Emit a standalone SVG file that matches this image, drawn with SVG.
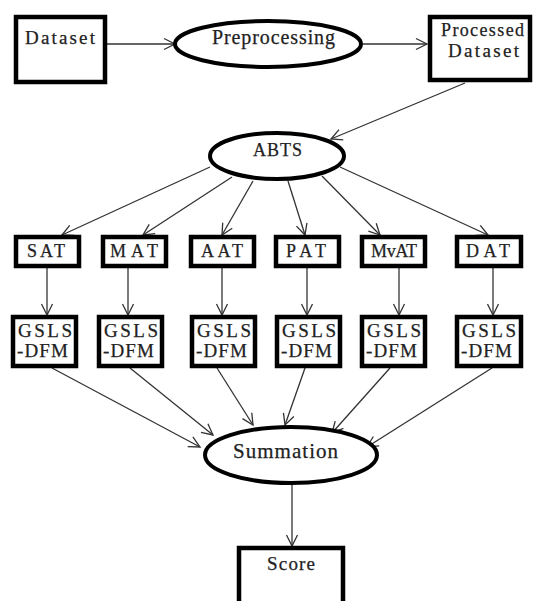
<svg xmlns="http://www.w3.org/2000/svg" width="533" height="601" viewBox="0 0 533 601">
<style>
.box{fill:#fff;stroke:#000;stroke-width:4.5}
.ell{fill:#fff;stroke:#000;stroke-width:4}
.t{font-family:"Liberation Serif","Times New Roman",serif;fill:#222;stroke:#222;stroke-width:0.25;text-anchor:start}
.c{fill:none;stroke:#333;stroke-width:1.3;marker-end:url(#a)}
</style>
<defs>
<marker id="a" markerUnits="userSpaceOnUse" markerWidth="14" markerHeight="14" viewBox="0 0 14 14" refX="12" refY="7" orient="auto">
<path d="M1,1.5 L12,7 L1,12.5" fill="none" stroke="#333" stroke-width="1.3"/>
</marker>
</defs>
<rect width="533" height="601" fill="#fff"/>
<g id="connectors">
<line class="c" x1="107" y1="44" x2="175" y2="44"/>
<line class="c" x1="363" y1="44" x2="427" y2="44"/>
<line class="c" x1="465" y1="83" x2="331" y2="139"/>
<line class="c" x1="210" y1="167" x2="62" y2="235"/>
<line class="c" x1="232" y1="177" x2="143" y2="235"/>
<line class="c" x1="253" y1="181" x2="222" y2="235"/>
<line class="c" x1="288" y1="181" x2="305" y2="235"/>
<line class="c" x1="322" y1="176" x2="380" y2="235"/>
<line class="c" x1="340" y1="167" x2="488" y2="235"/>
<line class="c" x1="47" y1="268" x2="47" y2="315"/>
<line class="c" x1="128" y1="268" x2="128" y2="315"/>
<line class="c" x1="222" y1="268" x2="222" y2="315"/>
<line class="c" x1="307" y1="268" x2="307" y2="315"/>
<line class="c" x1="399" y1="268" x2="399" y2="315"/>
<line class="c" x1="493" y1="268" x2="493" y2="315"/>
<line class="c" x1="52" y1="368" x2="200" y2="447"/>
<line class="c" x1="130" y1="368" x2="213" y2="435"/>
<line class="c" x1="217" y1="368" x2="253" y2="425"/>
<line class="c" x1="305" y1="368" x2="285" y2="425"/>
<line class="c" x1="390" y1="368" x2="332" y2="433"/>
<line class="c" x1="492" y1="368" x2="367" y2="447"/>
<line class="c" x1="292" y1="485" x2="292" y2="546"/>
</g>
<g id="dataset"><rect class="box" x="16" y="17" width="89" height="65"/><text class="t" x="25" y="44" font-size="19" textLength="70" lengthAdjust="spacing">Dataset</text></g>
<g id="preprocessing"><ellipse class="ell" cx="268" cy="44" rx="93" ry="23"/><text class="t" x="212" y="44" font-size="20" textLength="123" lengthAdjust="spacing">Preprocessing</text></g>
<g id="processed"><rect class="box" x="430" y="17" width="100" height="63"/><text class="t" x="441" y="36" font-size="18" textLength="83" lengthAdjust="spacing">Processed</text><text class="t" x="448" y="57" font-size="19" textLength="71" lengthAdjust="spacing">Dataset</text></g>
<g id="abts"><ellipse class="ell" cx="277" cy="156" rx="67" ry="23"/><text class="t" x="253" y="156" font-size="18" textLength="49" lengthAdjust="spacing">ABTS</text></g>
<g id="sat"><rect class="box" x="16" y="237" width="63" height="29"/><text class="t" x="27" y="257" font-size="18" textLength="38" lengthAdjust="spacing">SAT</text></g>
<g id="mat"><rect class="box" x="103" y="237" width="63" height="29"/><text class="t" x="110" y="257" font-size="18" textLength="48" lengthAdjust="spacing">MAT</text></g>
<g id="aat"><rect class="box" x="191" y="237" width="63" height="29"/><text class="t" x="201" y="257" font-size="18" textLength="42" lengthAdjust="spacing">AAT</text></g>
<g id="pat"><rect class="box" x="276" y="237" width="63" height="29"/><text class="t" x="286" y="257" font-size="18" textLength="40" lengthAdjust="spacing">PAT</text></g>
<g id="mvat"><rect class="box" x="362" y="237" width="63" height="29"/><text class="t" x="371" y="257" font-size="18" textLength="46" lengthAdjust="spacing">MvAT</text></g>
<g id="dat"><rect class="box" x="457" y="237" width="64" height="29"/><text class="t" x="466" y="257" font-size="18" textLength="44" lengthAdjust="spacing">DAT</text></g>
<g id="gsls1"><rect class="box" x="13" y="317" width="63" height="49"/><text class="t" x="18" y="337" font-size="19" textLength="54" lengthAdjust="spacing">GSLS</text><text class="t" x="17" y="357" font-size="19" textLength="51" lengthAdjust="spacing">-DFM</text></g>
<g id="gsls2"><rect class="box" x="99" y="317" width="63" height="49"/><text class="t" x="104" y="337" font-size="19" textLength="54" lengthAdjust="spacing">GSLS</text><text class="t" x="103" y="357" font-size="19" textLength="51" lengthAdjust="spacing">-DFM</text></g>
<g id="gsls3"><rect class="box" x="192" y="317" width="63" height="49"/><text class="t" x="197" y="337" font-size="19" textLength="54" lengthAdjust="spacing">GSLS</text><text class="t" x="196" y="357" font-size="19" textLength="51" lengthAdjust="spacing">-DFM</text></g>
<g id="gsls4"><rect class="box" x="277" y="317" width="63" height="49"/><text class="t" x="282" y="337" font-size="19" textLength="54" lengthAdjust="spacing">GSLS</text><text class="t" x="281" y="357" font-size="19" textLength="51" lengthAdjust="spacing">-DFM</text></g>
<g id="gsls5"><rect class="box" x="362" y="317" width="63" height="49"/><text class="t" x="367" y="337" font-size="19" textLength="54" lengthAdjust="spacing">GSLS</text><text class="t" x="366" y="357" font-size="19" textLength="51" lengthAdjust="spacing">-DFM</text></g>
<g id="gsls6"><rect class="box" x="457" y="317" width="64" height="49"/><text class="t" x="462" y="337" font-size="19" textLength="54" lengthAdjust="spacing">GSLS</text><text class="t" x="461" y="357" font-size="19" textLength="51" lengthAdjust="spacing">-DFM</text></g>
<g id="summation"><ellipse class="ell" cx="291" cy="455" rx="86" ry="28"/><text class="t" x="233" y="458" font-size="21" textLength="105" lengthAdjust="spacing">Summation</text></g>
<g id="score"><rect class="box" x="239" y="548" width="104" height="70"/><text class="t" x="267" y="570" font-size="19" textLength="48" lengthAdjust="spacing">Score</text></g>
</svg>
